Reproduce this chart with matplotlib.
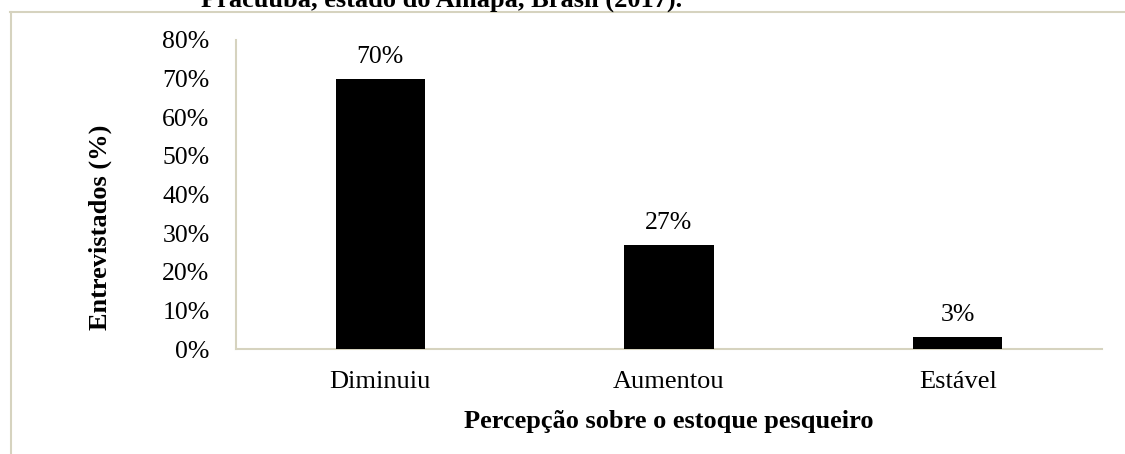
import matplotlib
matplotlib.use("Agg")
import matplotlib.pyplot as plt
from matplotlib.lines import Line2D
from matplotlib.ticker import FuncFormatter

categories = ["Diminuiu", "Aumentou", "Estável"]
values = [70, 27, 3]
yticks = [0, 10, 20, 30, 40, 50, 60, 70, 80]

plt.rcParams['font.family'] = ['Liberation Serif', 'DejaVu Serif']

W, H = 1125, 454
FS = 19
fig = plt.figure(figsize=(W / 100, H / 100), dpi=100)
ax = fig.add_axes([236 / W, 1 - 349 / H, (1102 - 236) / W, (349 - 40) / H])

frame_c = "#D6D3BF"
x = range(len(categories))
ax.bar(x, values, width=0.31, color="black", zorder=3)
for xi, v in zip(x, values):
    ax.annotate(f"{v}%", (xi, v), xytext=(0, 8), textcoords="offset points",
                ha="center", va="bottom", fontsize=18.5)

ax.set_xlim(-0.5, 2.5)
ax.set_ylim(0, 80)
ax.set_yticks(yticks)
ax.yaxis.set_major_formatter(FuncFormatter(lambda v, p: f"{int(v)}%"))
ax.set_xticks(list(x))
ax.set_xticklabels(categories)
ax.tick_params(axis="both", length=0, labelsize=FS)
ax.tick_params(axis="y", labelsize=18.5, pad=19)
ax.tick_params(axis="x", pad=16)
for s in ["top", "right"]:
    ax.spines[s].set_visible(False)
for s in ["left", "bottom"]:
    ax.spines[s].set_color(frame_c)
    ax.spines[s].set_linewidth(1.5)

ax.set_xlabel("Percepção sobre o estoque pesqueiro", fontsize=FS,
              fontweight="bold", labelpad=12)
ax.set_ylabel("Entrevistados (%)", fontsize=FS, fontweight="bold")
ax.yaxis.set_label_coords((100 - 236) / (1102 - 236), (349 - 227) / (349 - 40))
ax.yaxis.label.set_va("center")

# outer frame (partially visible)
fig.add_artist(Line2D([10.5 / W, 10.5 / W], [0, 1 - 11.5 / H], transform=fig.transFigure,
                      color=frame_c, lw=1.5))
fig.add_artist(Line2D([10 / W, 1], [1 - 11.5 / H, 1 - 11.5 / H], transform=fig.transFigure,
                      color=frame_c, lw=1.5))

# title from the source document, clipped at the top edge as in the reference
fig.text(442 / W, 1 - 7 / H, "Pracuúba, estado do Amapá, Brasil (2017).",
         ha="center", va="baseline", fontsize=FS, fontweight="bold")

fig.savefig("out.png", dpi=100)
